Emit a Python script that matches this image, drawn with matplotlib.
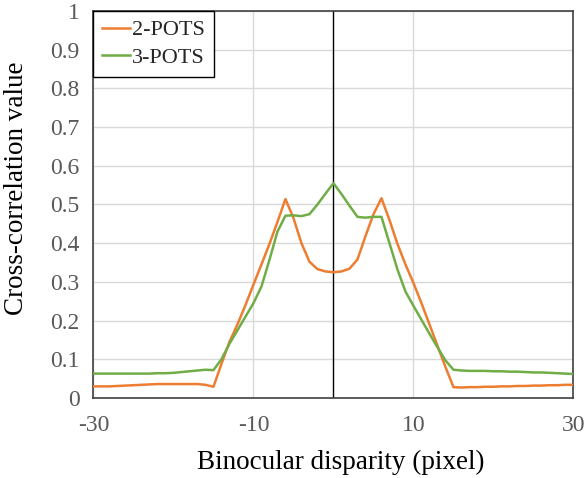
import numpy as np
import matplotlib
matplotlib.use("Agg")
import matplotlib.pyplot as plt

# disparity in pixels, one sample per pixel
disparity = list(range(-30, 31))

pots2 = [0.030, 0.030, 0.030, 0.031, 0.032, 0.033, 0.034, 0.035, 0.036, 0.036,
         0.036, 0.036, 0.036, 0.036, 0.034, 0.029, 0.088, 0.145, 0.190, 0.240,
         0.293, 0.345, 0.398, 0.455, 0.514, 0.465, 0.400, 0.352, 0.333, 0.327,
         0.325,
         0.327, 0.334, 0.358, 0.418, 0.475, 0.516, 0.460, 0.398, 0.345, 0.297,
         0.245, 0.190, 0.135, 0.080, 0.028, 0.027, 0.028, 0.028, 0.029, 0.029,
         0.030, 0.030, 0.031, 0.031, 0.032, 0.032, 0.033, 0.033, 0.034, 0.034]

pots3 = [0.063, 0.063, 0.063, 0.063, 0.063, 0.063, 0.063, 0.063, 0.064, 0.064,
         0.065, 0.067, 0.069, 0.071, 0.073, 0.072, 0.100, 0.140, 0.175, 0.210,
         0.245, 0.288, 0.357, 0.430, 0.471, 0.472, 0.470, 0.475, 0.500, 0.528,
         0.555,
         0.527, 0.497, 0.468, 0.466, 0.468, 0.468, 0.400, 0.332, 0.275, 0.238,
         0.202, 0.166, 0.131, 0.097, 0.073, 0.071, 0.070, 0.070, 0.070, 0.069,
         0.069, 0.068, 0.068, 0.067, 0.066, 0.066, 0.065, 0.064, 0.063, 0.062]

xticks = [-30, -10, 10, 30]
yticks = [0, 0.1, 0.2, 0.3, 0.4, 0.5, 0.6, 0.7, 0.8, 0.9, 1]
ytick_labels = ["0", "0.1", "0.2", "0.3", "0.4", "0.5", "0.6", "0.7", "0.8", "0.9", "1"]

plt.rcParams["font.family"] = ["Liberation Serif", "DejaVu Serif"]

fig = plt.figure(figsize=(5.84, 4.78), dpi=100)
ax = fig.add_axes([0.160, 0.1674, 0.822, 0.8096])

ax.plot(disparity, pots2, color="#ED7D31", lw=1.8, label="2-POTS", zorder=3,
        solid_joinstyle="round")
ax.plot(disparity, pots3, color="#70AD47", lw=1.8, label="3-POTS", zorder=3,
        solid_joinstyle="round")
ax.axvline(0, color="black", lw=1.0, zorder=2)

ax.set_xlim(-30, 30)
ax.set_ylim(0, 1)
ax.set_xticks(xticks)
ax.set_xticklabels([str(t) for t in xticks])
ax.set_yticks(yticks)
ax.set_yticklabels(ytick_labels)
ax.tick_params(length=0, labelsize=17, labelcolor="#595959", pad=10)
ax.tick_params(axis="x", pad=12)
ax.grid(True, color="#D9D9D9", lw=1.0, zorder=0)
ax.set_axisbelow(True)
for s in ax.spines.values():
    s.set_color("#404040")
    s.set_linewidth(1.2)

# axis titles, placed where the reference has them
fig.text(341 / 584, 1 - 462 / 478, "Binocular disparity (pixel)", fontsize=19.5,
         ha="center", va="center")
fig.text(17 / 584, 1 - 188 / 478, "Cross-correlation value", fontsize=19.5,
         ha="center", va="center", rotation=90)

leg = ax.legend(loc="upper left", bbox_to_anchor=(0, 1), borderaxespad=0,
                fontsize=16, fancybox=False, framealpha=1, edgecolor="black",
                handlelength=1.25, handletextpad=0.1, labelspacing=0.3,
                borderpad=0.4)
leg.get_frame().set_linewidth(1.0)
for t in leg.get_texts():
    t.set_color("#262626")

fig.savefig("out.png", dpi=100)
